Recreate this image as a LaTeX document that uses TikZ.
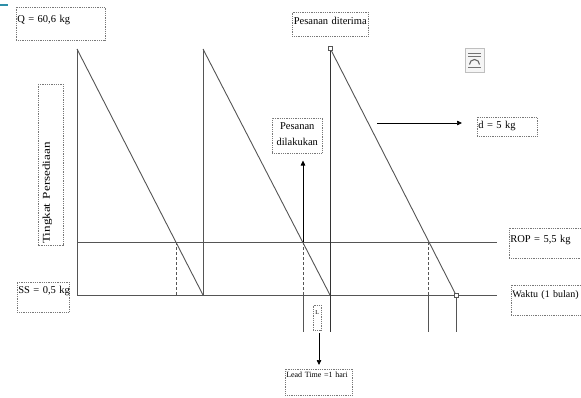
\documentclass[tikz,border=0pt]{standalone}
\usepackage{fontspec}
\usepackage{graphicx}
\setmainfont{Liberation Serif}
\usetikzlibrary{arrows.meta}
\definecolor{lncol}{RGB}{85,85,85}
\definecolor{boxcol}{RGB}{120,120,120}
\definecolor{tealc}{RGB}{46,143,168}
\begin{document}
\begin{tikzpicture}[x=1pt,y=-1pt,
  ln/.style={draw=lncol,line width=0.9pt},
  dashln/.style={draw=lncol,line width=0.7pt,dash pattern=on 3pt off 2pt},
  arr/.style={draw=black,line width=0.7pt,-{Triangle[length=5pt,width=4.5pt]}},
  tbox/.style={draw=boxcol,line width=0.5pt,dash pattern=on 1pt off 0.8pt,
    inner xsep=1pt,inner ysep=0pt,anchor=north west,align=left,
    font=\fontsize{10.5}{13}\selectfont},
  marker/.style={draw=lncol,fill=white,line width=0.5pt,minimum size=3.5pt,inner sep=0pt}]
\useasboundingbox (0,0) rectangle (581,397);
% artifact line top-left
\coordinate (T1) at (0,5);
\coordinate (T2) at (8,5);
\draw[tealc,line width=1.5pt] (T1) -- (T2);
% key points
\coordinate (P1) at (77,49);
\coordinate (O) at (77,295);
\coordinate (Xend) at (497,295);
\coordinate (RS) at (77,242);
\coordinate (RE) at (497,242);
\coordinate (B1) at (203,295);
\coordinate (P2) at (203,49);
\coordinate (B2) at (330,295);
\coordinate (P3) at (330,48);
\coordinate (B3) at (456,295);
\coordinate (R1) at (176,242);
\coordinate (R1b) at (176,295);
\coordinate (R2) at (303,242);
\coordinate (R2b) at (303,295);
\coordinate (R2c) at (303,332);
\coordinate (R3) at (428,242);
\coordinate (R3b) at (428,295);
\coordinate (R3c) at (428,332);
\coordinate (B2c) at (330,332);
\coordinate (B3c) at (456,332);
% axes and levels
\draw[ln] (P1) -- (O) -- (Xend);
\draw[ln] (RS) -- (RE);
% sawtooth
\draw[ln] (P1) -- (B1);
\draw[ln] (P2) -- (B1);
\draw[ln] (P2) -- (B2);
\draw[ln,draw=black!80] (P3) -- (B2c);
\draw[ln] (P3) -- (B3);
% reorder drops
\draw[dashln] (R1) -- (R1b);
\draw[dashln] (R2) -- (R2b);
\draw[ln,line width=0.7pt] (R2b) -- (R2c);
\draw[dashln] (R3) -- (R3b);
\draw[ln,line width=0.7pt] (R3b) -- (R3c);
\draw[ln,line width=0.7pt] (B3) -- (B3c);
% markers
\node[marker] (m1) at (P3) {};
\node[marker] (m2) at (B3) {};
% text boxes
\node[tbox,text width=87pt,text height=15pt,text depth=18pt] (Q) at (16,7) {\mbox{Q = 60,6 kg}};
\node[tbox,text width=74pt,text height=12pt,text depth=12pt,align=center] (diterima) at (292,12) {\mbox{Pesanan diterima}};
\node[tbox,text width=48pt,text height=11pt,text depth=24pt,align=center,
  font=\fontsize{10.5}{16}\selectfont] (dil) at (272,118) {Pesanan\\dilakukan};
\node[tbox,text width=58pt,text height=11pt,text depth=8pt] (dbox) at (477,117) {\mbox{d = 5 kg}};
\node[tbox,text width=72pt,text height=14pt,text depth=16pt] (rop) at (509,228) {\mbox{ROP = 5,5 kg}};
\node[tbox,text width=72pt,text height=12pt,text depth=18pt,font=\fontsize{10}{12}\selectfont] (waktu) at (511,285) {\mbox{Waktu (1 bulan)}};
\node[tbox,text width=50pt,text height=11pt,text depth=19pt] (ss) at (17,282) {\mbox{SS = 0,5 kg}};
\node[tbox,rotate=90,anchor=south west,text width=159pt,text height=12pt,text depth=13pt] (ting) at (63,245)
  {\scalebox{1.25}[1]{Tingkat Persediaan}};
\node[tbox,text width=6pt,text height=9pt,text depth=16pt,align=center,font=\fontsize{6}{7}\selectfont] (Lbox) at (313,305) {L};
\node[tbox,text width=65pt,text height=8pt,text depth=18pt,font=\fontsize{8}{9}\selectfont] (lead) at (285,369) {\mbox{Lead Time =1 hari}};
% arrows
\draw[arr,shorten >=7pt] (R2) -- (R2 |- dil.south);
\coordinate (Ra) at (377,123);
\draw[arr,shorten >=15pt] (Ra) -- (Ra -| dbox.west);
\coordinate (La) at (319,333);
\draw[arr,shorten >=4pt] (La) -- (La |- lead.north);
% small document icon
\coordinate (I1) at (465,48);
\coordinate (I2) at (484,72);
\draw[draw=black!25,fill=black!4,line width=0.5pt] (I1) rectangle (I2);
\draw[black!55,line width=0.6pt] (468,53) -- (481,53) (468,56) -- (481,56) (468,67) -- (481,67);
\draw[black!60,line width=1.1pt] (469.5,64.5) arc[start angle=180,end angle=0,radius=5pt];
\end{tikzpicture}
\end{document}
